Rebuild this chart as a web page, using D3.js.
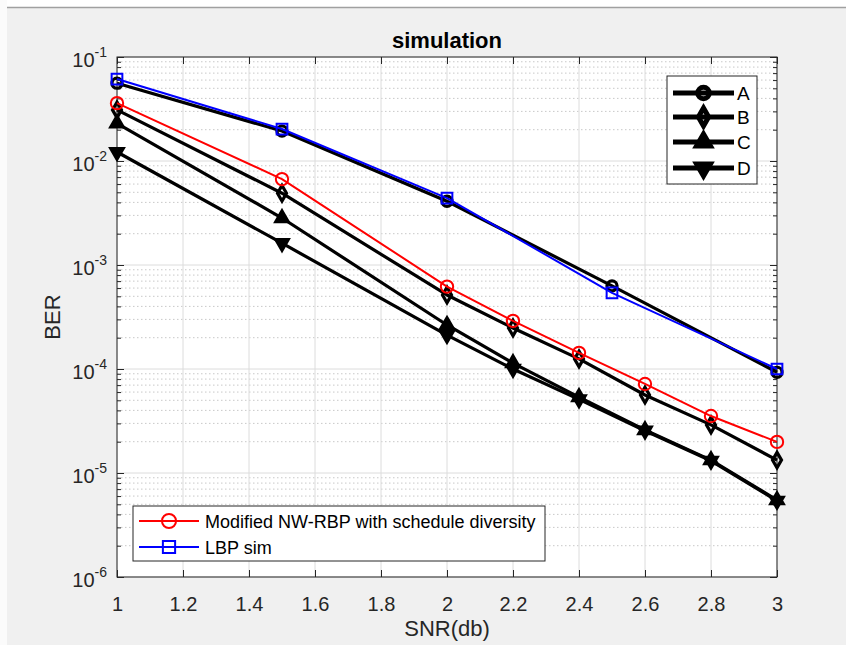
<!DOCTYPE html>
<html>
<head>
<meta charset="utf-8">
<script src="https://cdn.jsdelivr.net/npm/d3@7"></script>
<style>
  body { margin: 0; background: #f0f0f0; }
  text { font-family: "Liberation Sans", Arial, Helvetica, sans-serif; }
</style>
</head>
<body>
<div class="ber-chart"></div>
<script>
// SNR points
const snrLong = [1, 1.5, 2, 2.2, 2.4, 2.6, 2.8, 3];
const snrShort = [1, 1.5, 2, 2.5, 3];

// BER values
const berA = [0.056, 0.0194, 0.0041, 0.00063, 0.000093];
const berB = [0.031, 0.0049, 0.000515, 0.000248, 0.000125, 0.0000562, 0.000029, 0.0000133];
const berC = [0.023, 0.00283, 0.000265, 0.000114, 0.0000537, 0.0000259, 0.0000133, 0.0000055];
const berD = [0.0122, 0.00162, 0.000212, 0.0001, 0.000051, 0.0000255, 0.0000131, 0.0000054];
const berModified = [0.036, 0.0067, 0.00062, 0.00029, 0.000143, 0.0000718, 0.0000353, 0.0000199];
const berLbp = [0.0614, 0.0203, 0.0044, 0.00054, 0.0001];

// ticks
const xTicks = [1, 1.2, 1.4, 1.6, 1.8, 2, 2.2, 2.4, 2.6, 2.8, 3];
const yExponents = [-1, -2, -3, -4, -5, -6];

const modifiedName = 'Modified NW-RBP with schedule diversity';
const lbpName = 'LBP sim';

const svg_width = 846, svg_height = 645;
const margin = {top: 57, right: 69, bottom: 68, left: 117};
const axColor = '#262626';

const svg = d3.select('.ber-chart').append('svg')
    .attr('width', svg_width).attr('height', svg_height)
    .style('display', 'block');

// window edge
svg.append('rect').attr('x', 0).attr('y', 0).attr('width', svg_width).attr('height', 7).style('fill', '#fff');
svg.append('rect').attr('x', 0).attr('y', 0).attr('width', 7).attr('height', svg_height).style('fill', '#fbfbfb');
svg.append('line').attr('x1', 7).attr('x2', svg_width).attr('y1', 7.5).attr('y2', 7.5)
    .style('stroke', '#a0a0a0').style('stroke-width', 1.5);

const x = d3.scaleLinear().domain([1, 3]).range([margin.left, svg_width - margin.right]);
const y = d3.scaleLog().domain([1e-6, 1e-1]).range([svg_height - margin.bottom, margin.top]);
const [x0, x1] = x.range();
const [yb, yt] = y.range();

// plot background
svg.append('rect').attr('x', x0).attr('y', yt).attr('width', x1 - x0).attr('height', yb - yt)
    .style('fill', '#fff');

// minor y values 2..9 of every decade
const yMinor = [];
yExponents.slice(1).forEach(e => {
    for (let m = 2; m <= 9; m++) yMinor.push(m * Math.pow(10, e));
});
const yMajor = yExponents.map(e => Math.pow(10, e));

// grid
const grid = svg.append('g').attr('class', 'grid');
grid.selectAll('.ymin').data(yMinor).enter().append('line')
    .attr('x1', x0).attr('x2', x1).attr('y1', d => y(d)).attr('y2', d => y(d))
    .style('stroke', '#c8c8c8').style('stroke-width', 1).style('stroke-dasharray', '1.5,2.5');
grid.selectAll('.ymaj').data(yMajor).enter().append('line')
    .attr('x1', x0).attr('x2', x1).attr('y1', d => y(d)).attr('y2', d => y(d))
    .style('stroke', '#dcdcdc').style('stroke-width', 1);
grid.selectAll('.xmaj').data(xTicks).enter().append('line')
    .attr('x1', d => x(d)).attr('x2', d => x(d)).attr('y1', yt).attr('y2', yb)
    .style('stroke', '#dcdcdc').style('stroke-width', 1);

// axes (ticks pointing in)
function styleAxis(g) {
    g.select('.domain').remove();
    g.selectAll('line').style('stroke', axColor);
}
svg.append('g').attr('transform', `translate(0,${yb})`)
    .call(d3.axisBottom(x).tickValues(xTicks).tickSizeInner(-7).tickSizeOuter(0).tickPadding(20)
        .tickFormat(d3.format('~g')))
    .call(styleAxis)
    .call(g => g.selectAll('text').style('font-size', '20px').style('fill', axColor)
        .style('font-family', '"Liberation Sans", Arial, sans-serif'));
svg.append('g').attr('transform', `translate(0,${yt})`)
    .call(d3.axisTop(x).tickValues(xTicks).tickSizeInner(-7).tickSizeOuter(0).tickFormat(''))
    .call(styleAxis);
[[d3.axisLeft, x0], [d3.axisRight, x1]].forEach(([ax, pos]) => {
    svg.append('g').attr('transform', `translate(${pos},0)`)
        .call(ax(y).tickValues(yMajor).tickSizeInner(-7).tickSizeOuter(0).tickFormat(''))
        .call(styleAxis);
    svg.append('g').attr('transform', `translate(${pos},0)`)
        .call(ax(y).tickValues(yMinor).tickSizeInner(-4).tickSizeOuter(0).tickFormat(''))
        .call(styleAxis);
});

// y tick labels 10^n
const yLab = svg.append('g').selectAll('text').data(yExponents).enter().append('text')
    .attr('x', 107).attr('y', d => y(Math.pow(10, d)) + 10)
    .style('text-anchor', 'end').style('fill', axColor).style('font-size', '20px');
yLab.append('tspan').text('10');
yLab.append('tspan').attr('dy', -10).style('font-size', '14px').text(d => `${d}`);

// box
svg.append('rect').attr('x', x0).attr('y', yt).attr('width', x1 - x0).attr('height', yb - yt)
    .style('fill', 'none').style('stroke', axColor).style('stroke-width', 1);

// series
const series = [
    {name: 'A', xs: snrShort, ys: berA, color: '#000', width: 3.2, symbol: d3.symbolCircle, size: 80, rot: 0, fill: 'none'},
    {name: 'B', xs: snrLong, ys: berB, color: '#000', width: 3.2, symbol: d3.symbolDiamond, size: 70, rot: 0, fill: 'none'},
    {name: 'C', xs: snrLong, ys: berC, color: '#000', width: 3.2, symbol: d3.symbolTriangle, size: 65, rot: 0, fill: '#000'},
    {name: 'D', xs: snrLong, ys: berD, color: '#000', width: 3.2, symbol: d3.symbolTriangle, size: 65, rot: 180, fill: '#000'},
    {name: modifiedName, xs: snrLong, ys: berModified, color: '#ff0000', width: 2, symbol: d3.symbolCircle, size: 120, rot: 0, fill: 'none'},
    {name: lbpName, xs: snrShort, ys: berLbp, color: '#0000ff', width: 2, symbol: d3.symbolSquare, size: 115, rot: 0, fill: 'none'}
];

const line = d3.line().x(d => x(d[0])).y(d => y(d[1]));
series.forEach(s => {
    const pts = s.xs.map((v, i) => [v, s.ys[i]]);
    const g = svg.append('g').attr('class', 'series');
    g.append('path').datum(pts).attr('d', line)
        .style('fill', 'none').style('stroke', s.color).style('stroke-width', s.width)
        .style('stroke-linejoin', 'round');
    g.selectAll('.mk').data(pts).enter().append('path').attr('class', 'mk')
        .attr('d', d3.symbol().type(s.symbol).size(s.size))
        .attr('transform', d => `translate(${x(d[0])},${y(d[1])}) rotate(${s.rot})`)
        .style('fill', s.fill).style('stroke', s.color).style('stroke-width', s.width);
});

// title and labels
svg.append('text').attr('x', (x0 + x1) / 2).attr('y', 48).text('simulation')
    .style('text-anchor', 'middle').style('font-weight', 'bold').style('font-size', '22px').style('fill', '#000');
svg.append('text').attr('x', (x0 + x1) / 2).attr('y', 636).text('SNR(db)')
    .style('text-anchor', 'middle').style('font-size', '22px').style('fill', axColor);
svg.append('text').attr('transform', 'translate(60,317) rotate(-90)').text('BER')
    .style('text-anchor', 'middle').style('font-size', '22px').style('fill', axColor);

// legends
function drawLegend(items, box, lineX0, lineX1, rowY, textX, fontSize, lineW) {
    const lg = svg.append('g').attr('class', 'legend');
    lg.append('rect').attr('x', box[0]).attr('y', box[1]).attr('width', box[2]).attr('height', box[3])
        .style('fill', '#fff').style('stroke', axColor).style('stroke-width', 1);
    items.forEach((s, i) => {
        const yy = rowY[i];
        const w = lineW || s.width;
        lg.append('line').attr('x1', lineX0).attr('x2', lineX1).attr('y1', yy).attr('y2', yy)
            .style('stroke', s.color).style('stroke-width', w);
        lg.append('path').attr('d', d3.symbol().type(s.symbol).size(s.size * 1.3)())
            .attr('transform', `translate(${(lineX0 + lineX1) / 2},${yy}) rotate(${s.rot})`)
            .style('fill', s.fill).style('stroke', s.color).style('stroke-width', w);
        lg.append('text').attr('x', textX).attr('y', yy + 6.5).text(s.name)
            .style('font-size', fontSize).style('fill', '#000');
    });
}
drawLegend(series.slice(0, 4), [667, 76, 90, 108], 673, 734, [93, 117, 142, 168], 737, '19px', 5);
drawLegend(series.slice(4), [133, 506, 412, 55], 139, 199, [521, 547], 205, '18px', null);
</script>
</body>
</html>
